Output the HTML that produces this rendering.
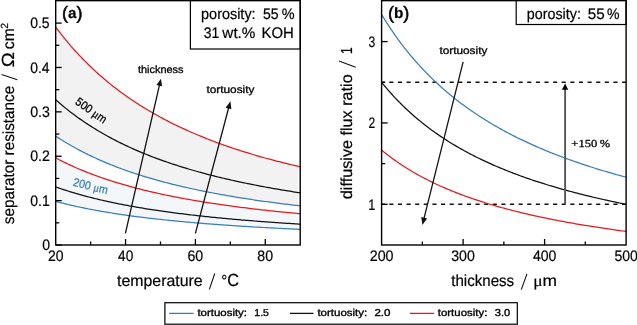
<!DOCTYPE html>
<html><head><meta charset="utf-8"><style>
html,body{margin:0;padding:0;background:#fff;}
body{width:637px;height:325px;overflow:hidden;}
svg{display:block;will-change:transform;text-rendering:geometricPrecision;}
</style></head><body>
<svg width="637" height="325" viewBox="0 0 637 325">
<rect x="0" y="0" width="637" height="325" fill="#fff"/>
<defs><clipPath id="fc"><rect x="57.9" y="0" width="240.0" height="245"/></clipPath></defs>
<path d="M55.70,27.14 L57.45,29.46 L59.19,31.73 L60.94,33.97 L62.69,36.16 L64.43,38.32 L66.18,40.44 L67.92,42.53 L69.67,44.58 L71.42,46.59 L73.16,48.58 L74.91,50.53 L76.66,52.44 L78.40,54.33 L80.15,56.19 L81.90,58.01 L83.64,59.81 L85.39,61.57 L87.14,63.31 L88.88,65.02 L90.63,66.71 L92.38,68.37 L94.12,70.00 L95.87,71.61 L97.61,73.19 L99.36,74.75 L101.11,76.28 L102.85,77.79 L104.60,79.28 L106.35,80.75 L108.09,82.19 L109.84,83.62 L111.59,85.02 L113.33,86.40 L115.08,87.76 L116.83,89.10 L118.57,90.43 L120.32,91.73 L122.06,93.01 L123.81,94.28 L125.56,95.53 L127.30,96.76 L129.05,97.98 L130.80,99.17 L132.54,100.35 L134.29,101.52 L136.04,102.67 L137.78,103.80 L139.53,104.92 L141.28,106.02 L143.02,107.11 L144.77,108.18 L146.51,109.24 L148.26,110.28 L150.01,111.32 L151.75,112.33 L153.50,113.34 L155.25,114.33 L156.99,115.31 L158.74,116.27 L160.49,117.23 L162.23,118.17 L163.98,119.10 L165.73,120.02 L167.47,120.92 L169.22,121.82 L170.96,122.70 L172.71,123.58 L174.46,124.44 L176.20,125.29 L177.95,126.13 L179.70,126.96 L181.44,127.79 L183.19,128.60 L184.94,129.40 L186.68,130.19 L188.43,130.97 L190.18,131.75 L191.92,132.51 L193.67,133.27 L195.41,134.01 L197.16,134.75 L198.91,135.48 L200.65,136.20 L202.40,136.91 L204.15,137.62 L205.89,138.32 L207.64,139.00 L209.39,139.69 L211.13,140.36 L212.88,141.02 L214.62,141.68 L216.37,142.33 L218.12,142.98 L219.86,143.61 L221.61,144.24 L223.36,144.87 L225.10,145.48 L226.85,146.09 L228.60,146.70 L230.34,147.29 L232.09,147.88 L233.84,148.47 L235.58,149.05 L237.33,149.62 L239.07,150.18 L240.82,150.74 L242.57,151.30 L244.31,151.84 L246.06,152.39 L247.81,152.92 L249.55,153.46 L251.30,153.98 L253.05,154.50 L254.79,155.02 L256.54,155.53 L258.29,156.03 L260.03,156.53 L261.78,157.03 L263.52,157.52 L265.27,158.00 L267.02,158.48 L268.76,158.96 L270.51,159.43 L272.26,159.90 L274.00,160.36 L275.75,160.82 L277.50,161.27 L279.24,161.72 L280.99,162.16 L282.74,162.60 L284.48,163.04 L286.23,163.47 L287.98,163.90 L289.72,164.32 L291.47,164.74 L293.21,165.16 L294.96,165.57 L296.71,165.98 L298.45,166.38 L300.20,166.78 L300.20,205.89 L298.45,205.69 L296.71,205.49 L294.96,205.28 L293.21,205.08 L291.47,204.87 L289.72,204.66 L287.98,204.45 L286.23,204.24 L284.48,204.02 L282.74,203.80 L280.99,203.58 L279.24,203.36 L277.50,203.13 L275.75,202.91 L274.00,202.68 L272.26,202.45 L270.51,202.22 L268.76,201.98 L267.02,201.74 L265.27,201.50 L263.52,201.26 L261.78,201.01 L260.03,200.77 L258.29,200.52 L256.54,200.26 L254.79,200.01 L253.05,199.75 L251.30,199.49 L249.55,199.23 L247.81,198.96 L246.06,198.69 L244.31,198.42 L242.57,198.15 L240.82,197.87 L239.07,197.59 L237.33,197.31 L235.58,197.02 L233.84,196.73 L232.09,196.44 L230.34,196.15 L228.60,195.85 L226.85,195.55 L225.10,195.24 L223.36,194.93 L221.61,194.62 L219.86,194.31 L218.12,193.99 L216.37,193.67 L214.62,193.34 L212.88,193.01 L211.13,192.68 L209.39,192.34 L207.64,192.00 L205.89,191.66 L204.15,191.31 L202.40,190.96 L200.65,190.60 L198.91,190.24 L197.16,189.88 L195.41,189.51 L193.67,189.13 L191.92,188.76 L190.18,188.37 L188.43,187.99 L186.68,187.60 L184.94,187.20 L183.19,186.80 L181.44,186.39 L179.70,185.98 L177.95,185.57 L176.20,185.15 L174.46,184.72 L172.71,184.29 L170.96,183.85 L169.22,183.41 L167.47,182.96 L165.73,182.51 L163.98,182.05 L162.23,181.59 L160.49,181.11 L158.74,180.64 L156.99,180.15 L155.25,179.66 L153.50,179.17 L151.75,178.67 L150.01,178.16 L148.26,177.64 L146.51,177.12 L144.77,176.59 L143.02,176.05 L141.28,175.51 L139.53,174.96 L137.78,174.40 L136.04,173.83 L134.29,173.26 L132.54,172.68 L130.80,172.09 L129.05,171.49 L127.30,170.88 L125.56,170.27 L123.81,169.64 L122.06,169.01 L120.32,168.36 L118.57,167.71 L116.83,167.05 L115.08,166.38 L113.33,165.70 L111.59,165.01 L109.84,164.31 L108.09,163.60 L106.35,162.87 L104.60,162.14 L102.85,161.40 L101.11,160.64 L99.36,159.87 L97.61,159.09 L95.87,158.30 L94.12,157.50 L92.38,156.68 L90.63,155.85 L88.88,155.01 L87.14,154.16 L85.39,153.29 L83.64,152.40 L81.90,151.51 L80.15,150.59 L78.40,149.67 L76.66,148.72 L74.91,147.76 L73.16,146.79 L71.42,145.80 L69.67,144.79 L67.92,143.76 L66.18,142.72 L64.43,141.66 L62.69,140.58 L60.94,139.48 L59.19,138.37 L57.45,137.23 L55.70,136.07 Z" fill="#f2f2f2" stroke="none" clip-path="url(#fc)"/>
<path d="M55.70,157.86 L57.45,158.78 L59.19,159.69 L60.94,160.59 L62.69,161.47 L64.43,162.33 L66.18,163.18 L67.92,164.01 L69.67,164.83 L71.42,165.64 L73.16,166.43 L74.91,167.21 L76.66,167.98 L78.40,168.73 L80.15,169.47 L81.90,170.20 L83.64,170.92 L85.39,171.63 L87.14,172.33 L88.88,173.01 L90.63,173.68 L92.38,174.35 L94.12,175.00 L95.87,175.64 L97.61,176.28 L99.36,176.90 L101.11,177.51 L102.85,178.12 L104.60,178.71 L106.35,179.30 L108.09,179.88 L109.84,180.45 L111.59,181.01 L113.33,181.56 L115.08,182.10 L116.83,182.64 L118.57,183.17 L120.32,183.69 L122.06,184.21 L123.81,184.71 L125.56,185.21 L127.30,185.70 L129.05,186.19 L130.80,186.67 L132.54,187.14 L134.29,187.61 L136.04,188.07 L137.78,188.52 L139.53,188.97 L141.28,189.41 L143.02,189.84 L144.77,190.27 L146.51,190.70 L148.26,191.11 L150.01,191.53 L151.75,191.93 L153.50,192.34 L155.25,192.73 L156.99,193.12 L158.74,193.51 L160.49,193.89 L162.23,194.27 L163.98,194.64 L165.73,195.01 L167.47,195.37 L169.22,195.73 L170.96,196.08 L172.71,196.43 L174.46,196.78 L176.20,197.12 L177.95,197.45 L179.70,197.79 L181.44,198.11 L183.19,198.44 L184.94,198.76 L186.68,199.08 L188.43,199.39 L190.18,199.70 L191.92,200.00 L193.67,200.31 L195.41,200.61 L197.16,200.90 L198.91,201.19 L200.65,201.48 L202.40,201.77 L204.15,202.05 L205.89,202.33 L207.64,202.60 L209.39,202.87 L211.13,203.14 L212.88,203.41 L214.62,203.67 L216.37,203.93 L218.12,204.19 L219.86,204.45 L221.61,204.70 L223.36,204.95 L225.10,205.19 L226.85,205.44 L228.60,205.68 L230.34,205.92 L232.09,206.15 L233.84,206.39 L235.58,206.62 L237.33,206.85 L239.07,207.07 L240.82,207.30 L242.57,207.52 L244.31,207.74 L246.06,207.95 L247.81,208.17 L249.55,208.38 L251.30,208.59 L253.05,208.80 L254.79,209.01 L256.54,209.21 L258.29,209.41 L260.03,209.61 L261.78,209.81 L263.52,210.01 L265.27,210.20 L267.02,210.39 L268.76,210.58 L270.51,210.77 L272.26,210.96 L274.00,211.14 L275.75,211.33 L277.50,211.51 L279.24,211.69 L280.99,211.87 L282.74,212.04 L284.48,212.22 L286.23,212.39 L287.98,212.56 L289.72,212.73 L291.47,212.90 L293.21,213.06 L294.96,213.23 L296.71,213.39 L298.45,213.55 L300.20,213.71 L300.20,229.36 L298.45,229.28 L296.71,229.20 L294.96,229.11 L293.21,229.03 L291.47,228.95 L289.72,228.86 L287.98,228.78 L286.23,228.69 L284.48,228.61 L282.74,228.52 L280.99,228.43 L279.24,228.34 L277.50,228.25 L275.75,228.16 L274.00,228.07 L272.26,227.98 L270.51,227.89 L268.76,227.79 L267.02,227.70 L265.27,227.60 L263.52,227.50 L261.78,227.41 L260.03,227.31 L258.29,227.21 L256.54,227.11 L254.79,227.00 L253.05,226.90 L251.30,226.80 L249.55,226.69 L247.81,226.58 L246.06,226.48 L244.31,226.37 L242.57,226.26 L240.82,226.15 L239.07,226.04 L237.33,225.92 L235.58,225.81 L233.84,225.69 L232.09,225.58 L230.34,225.46 L228.60,225.34 L226.85,225.22 L225.10,225.10 L223.36,224.97 L221.61,224.85 L219.86,224.72 L218.12,224.60 L216.37,224.47 L214.62,224.34 L212.88,224.20 L211.13,224.07 L209.39,223.94 L207.64,223.80 L205.89,223.66 L204.15,223.52 L202.40,223.38 L200.65,223.24 L198.91,223.10 L197.16,222.95 L195.41,222.80 L193.67,222.65 L191.92,222.50 L190.18,222.35 L188.43,222.19 L186.68,222.04 L184.94,221.88 L183.19,221.72 L181.44,221.56 L179.70,221.39 L177.95,221.23 L176.20,221.06 L174.46,220.89 L172.71,220.72 L170.96,220.54 L169.22,220.36 L167.47,220.18 L165.73,220.00 L163.98,219.82 L162.23,219.63 L160.49,219.45 L158.74,219.25 L156.99,219.06 L155.25,218.87 L153.50,218.67 L151.75,218.47 L150.01,218.26 L148.26,218.06 L146.51,217.85 L144.77,217.64 L143.02,217.42 L141.28,217.20 L139.53,216.98 L137.78,216.76 L136.04,216.53 L134.29,216.30 L132.54,216.07 L130.80,215.83 L129.05,215.60 L127.30,215.35 L125.56,215.11 L123.81,214.86 L122.06,214.60 L120.32,214.35 L118.57,214.09 L116.83,213.82 L115.08,213.55 L113.33,213.28 L111.59,213.00 L109.84,212.72 L108.09,212.44 L106.35,212.15 L104.60,211.86 L102.85,211.56 L101.11,211.26 L99.36,210.95 L97.61,210.64 L95.87,210.32 L94.12,210.00 L92.38,209.67 L90.63,209.34 L88.88,209.00 L87.14,208.66 L85.39,208.31 L83.64,207.96 L81.90,207.60 L80.15,207.24 L78.40,206.87 L76.66,206.49 L74.91,206.11 L73.16,205.72 L71.42,205.32 L69.67,204.92 L67.92,204.51 L66.18,204.09 L64.43,203.66 L62.69,203.23 L60.94,202.79 L59.19,202.35 L57.45,201.89 L55.70,201.43 Z" fill="#f3f7fa" stroke="none" clip-path="url(#fc)"/>
<path d="M55.70,136.07 L57.45,137.23 L59.19,138.37 L60.94,139.48 L62.69,140.58 L64.43,141.66 L66.18,142.72 L67.92,143.76 L69.67,144.79 L71.42,145.80 L73.16,146.79 L74.91,147.76 L76.66,148.72 L78.40,149.67 L80.15,150.59 L81.90,151.51 L83.64,152.40 L85.39,153.29 L87.14,154.16 L88.88,155.01 L90.63,155.85 L92.38,156.68 L94.12,157.50 L95.87,158.30 L97.61,159.09 L99.36,159.87 L101.11,160.64 L102.85,161.40 L104.60,162.14 L106.35,162.87 L108.09,163.60 L109.84,164.31 L111.59,165.01 L113.33,165.70 L115.08,166.38 L116.83,167.05 L118.57,167.71 L120.32,168.36 L122.06,169.01 L123.81,169.64 L125.56,170.27 L127.30,170.88 L129.05,171.49 L130.80,172.09 L132.54,172.68 L134.29,173.26 L136.04,173.83 L137.78,174.40 L139.53,174.96 L141.28,175.51 L143.02,176.05 L144.77,176.59 L146.51,177.12 L148.26,177.64 L150.01,178.16 L151.75,178.67 L153.50,179.17 L155.25,179.66 L156.99,180.15 L158.74,180.64 L160.49,181.11 L162.23,181.59 L163.98,182.05 L165.73,182.51 L167.47,182.96 L169.22,183.41 L170.96,183.85 L172.71,184.29 L174.46,184.72 L176.20,185.15 L177.95,185.57 L179.70,185.98 L181.44,186.39 L183.19,186.80 L184.94,187.20 L186.68,187.60 L188.43,187.99 L190.18,188.37 L191.92,188.76 L193.67,189.13 L195.41,189.51 L197.16,189.88 L198.91,190.24 L200.65,190.60 L202.40,190.96 L204.15,191.31 L205.89,191.66 L207.64,192.00 L209.39,192.34 L211.13,192.68 L212.88,193.01 L214.62,193.34 L216.37,193.67 L218.12,193.99 L219.86,194.31 L221.61,194.62 L223.36,194.93 L225.10,195.24 L226.85,195.55 L228.60,195.85 L230.34,196.15 L232.09,196.44 L233.84,196.73 L235.58,197.02 L237.33,197.31 L239.07,197.59 L240.82,197.87 L242.57,198.15 L244.31,198.42 L246.06,198.69 L247.81,198.96 L249.55,199.23 L251.30,199.49 L253.05,199.75 L254.79,200.01 L256.54,200.26 L258.29,200.52 L260.03,200.77 L261.78,201.01 L263.52,201.26 L265.27,201.50 L267.02,201.74 L268.76,201.98 L270.51,202.22 L272.26,202.45 L274.00,202.68 L275.75,202.91 L277.50,203.13 L279.24,203.36 L280.99,203.58 L282.74,203.80 L284.48,204.02 L286.23,204.24 L287.98,204.45 L289.72,204.66 L291.47,204.87 L293.21,205.08 L294.96,205.28 L296.71,205.49 L298.45,205.69 L300.20,205.89" fill="none" stroke="#377eb8" stroke-width="1.25"/>
<path d="M55.70,99.76 L57.45,101.31 L59.19,102.82 L60.94,104.31 L62.69,105.78 L64.43,107.21 L66.18,108.63 L67.92,110.02 L69.67,111.39 L71.42,112.73 L73.16,114.05 L74.91,115.35 L76.66,116.63 L78.40,117.89 L80.15,119.12 L81.90,120.34 L83.64,121.54 L85.39,122.72 L87.14,123.88 L88.88,125.02 L90.63,126.14 L92.38,127.24 L94.12,128.33 L95.87,129.40 L97.61,130.46 L99.36,131.50 L101.11,132.52 L102.85,133.53 L104.60,134.52 L106.35,135.50 L108.09,136.46 L109.84,137.41 L111.59,138.35 L113.33,139.27 L115.08,140.17 L116.83,141.07 L118.57,141.95 L120.32,142.82 L122.06,143.68 L123.81,144.52 L125.56,145.35 L127.30,146.17 L129.05,146.98 L130.80,147.78 L132.54,148.57 L134.29,149.35 L136.04,150.11 L137.78,150.87 L139.53,151.61 L141.28,152.35 L143.02,153.07 L144.77,153.79 L146.51,154.49 L148.26,155.19 L150.01,155.88 L151.75,156.56 L153.50,157.23 L155.25,157.89 L156.99,158.54 L158.74,159.18 L160.49,159.82 L162.23,160.45 L163.98,161.07 L165.73,161.68 L167.47,162.28 L169.22,162.88 L170.96,163.47 L172.71,164.05 L174.46,164.63 L176.20,165.19 L177.95,165.76 L179.70,166.31 L181.44,166.86 L183.19,167.40 L184.94,167.93 L186.68,168.46 L188.43,168.98 L190.18,169.50 L191.92,170.01 L193.67,170.51 L195.41,171.01 L197.16,171.50 L198.91,171.99 L200.65,172.47 L202.40,172.94 L204.15,173.41 L205.89,173.88 L207.64,174.34 L209.39,174.79 L211.13,175.24 L212.88,175.68 L214.62,176.12 L216.37,176.56 L218.12,176.99 L219.86,177.41 L221.61,177.83 L223.36,178.24 L225.10,178.66 L226.85,179.06 L228.60,179.46 L230.34,179.86 L232.09,180.26 L233.84,180.64 L235.58,181.03 L237.33,181.41 L239.07,181.79 L240.82,182.16 L242.57,182.53 L244.31,182.90 L246.06,183.26 L247.81,183.62 L249.55,183.97 L251.30,184.32 L253.05,184.67 L254.79,185.01 L256.54,185.35 L258.29,185.69 L260.03,186.02 L261.78,186.35 L263.52,186.68 L265.27,187.00 L267.02,187.32 L268.76,187.64 L270.51,187.95 L272.26,188.26 L274.00,188.57 L275.75,188.88 L277.50,189.18 L279.24,189.48 L280.99,189.78 L282.74,190.07 L284.48,190.36 L286.23,190.65 L287.98,190.93 L289.72,191.21 L291.47,191.49 L293.21,191.77 L294.96,192.05 L296.71,192.32 L298.45,192.59 L300.20,192.86" fill="none" stroke="#111111" stroke-width="1.25"/>
<path d="M55.70,27.14 L57.45,29.46 L59.19,31.73 L60.94,33.97 L62.69,36.16 L64.43,38.32 L66.18,40.44 L67.92,42.53 L69.67,44.58 L71.42,46.59 L73.16,48.58 L74.91,50.53 L76.66,52.44 L78.40,54.33 L80.15,56.19 L81.90,58.01 L83.64,59.81 L85.39,61.57 L87.14,63.31 L88.88,65.02 L90.63,66.71 L92.38,68.37 L94.12,70.00 L95.87,71.61 L97.61,73.19 L99.36,74.75 L101.11,76.28 L102.85,77.79 L104.60,79.28 L106.35,80.75 L108.09,82.19 L109.84,83.62 L111.59,85.02 L113.33,86.40 L115.08,87.76 L116.83,89.10 L118.57,90.43 L120.32,91.73 L122.06,93.01 L123.81,94.28 L125.56,95.53 L127.30,96.76 L129.05,97.98 L130.80,99.17 L132.54,100.35 L134.29,101.52 L136.04,102.67 L137.78,103.80 L139.53,104.92 L141.28,106.02 L143.02,107.11 L144.77,108.18 L146.51,109.24 L148.26,110.28 L150.01,111.32 L151.75,112.33 L153.50,113.34 L155.25,114.33 L156.99,115.31 L158.74,116.27 L160.49,117.23 L162.23,118.17 L163.98,119.10 L165.73,120.02 L167.47,120.92 L169.22,121.82 L170.96,122.70 L172.71,123.58 L174.46,124.44 L176.20,125.29 L177.95,126.13 L179.70,126.96 L181.44,127.79 L183.19,128.60 L184.94,129.40 L186.68,130.19 L188.43,130.97 L190.18,131.75 L191.92,132.51 L193.67,133.27 L195.41,134.01 L197.16,134.75 L198.91,135.48 L200.65,136.20 L202.40,136.91 L204.15,137.62 L205.89,138.32 L207.64,139.00 L209.39,139.69 L211.13,140.36 L212.88,141.02 L214.62,141.68 L216.37,142.33 L218.12,142.98 L219.86,143.61 L221.61,144.24 L223.36,144.87 L225.10,145.48 L226.85,146.09 L228.60,146.70 L230.34,147.29 L232.09,147.88 L233.84,148.47 L235.58,149.05 L237.33,149.62 L239.07,150.18 L240.82,150.74 L242.57,151.30 L244.31,151.84 L246.06,152.39 L247.81,152.92 L249.55,153.46 L251.30,153.98 L253.05,154.50 L254.79,155.02 L256.54,155.53 L258.29,156.03 L260.03,156.53 L261.78,157.03 L263.52,157.52 L265.27,158.00 L267.02,158.48 L268.76,158.96 L270.51,159.43 L272.26,159.90 L274.00,160.36 L275.75,160.82 L277.50,161.27 L279.24,161.72 L280.99,162.16 L282.74,162.60 L284.48,163.04 L286.23,163.47 L287.98,163.90 L289.72,164.32 L291.47,164.74 L293.21,165.16 L294.96,165.57 L296.71,165.98 L298.45,166.38 L300.20,166.78" fill="none" stroke="#e41a1c" stroke-width="1.25"/>
<path d="M55.70,201.43 L57.45,201.89 L59.19,202.35 L60.94,202.79 L62.69,203.23 L64.43,203.66 L66.18,204.09 L67.92,204.51 L69.67,204.92 L71.42,205.32 L73.16,205.72 L74.91,206.11 L76.66,206.49 L78.40,206.87 L80.15,207.24 L81.90,207.60 L83.64,207.96 L85.39,208.31 L87.14,208.66 L88.88,209.00 L90.63,209.34 L92.38,209.67 L94.12,210.00 L95.87,210.32 L97.61,210.64 L99.36,210.95 L101.11,211.26 L102.85,211.56 L104.60,211.86 L106.35,212.15 L108.09,212.44 L109.84,212.72 L111.59,213.00 L113.33,213.28 L115.08,213.55 L116.83,213.82 L118.57,214.09 L120.32,214.35 L122.06,214.60 L123.81,214.86 L125.56,215.11 L127.30,215.35 L129.05,215.60 L130.80,215.83 L132.54,216.07 L134.29,216.30 L136.04,216.53 L137.78,216.76 L139.53,216.98 L141.28,217.20 L143.02,217.42 L144.77,217.64 L146.51,217.85 L148.26,218.06 L150.01,218.26 L151.75,218.47 L153.50,218.67 L155.25,218.87 L156.99,219.06 L158.74,219.25 L160.49,219.45 L162.23,219.63 L163.98,219.82 L165.73,220.00 L167.47,220.18 L169.22,220.36 L170.96,220.54 L172.71,220.72 L174.46,220.89 L176.20,221.06 L177.95,221.23 L179.70,221.39 L181.44,221.56 L183.19,221.72 L184.94,221.88 L186.68,222.04 L188.43,222.19 L190.18,222.35 L191.92,222.50 L193.67,222.65 L195.41,222.80 L197.16,222.95 L198.91,223.10 L200.65,223.24 L202.40,223.38 L204.15,223.52 L205.89,223.66 L207.64,223.80 L209.39,223.94 L211.13,224.07 L212.88,224.20 L214.62,224.34 L216.37,224.47 L218.12,224.60 L219.86,224.72 L221.61,224.85 L223.36,224.97 L225.10,225.10 L226.85,225.22 L228.60,225.34 L230.34,225.46 L232.09,225.58 L233.84,225.69 L235.58,225.81 L237.33,225.92 L239.07,226.04 L240.82,226.15 L242.57,226.26 L244.31,226.37 L246.06,226.48 L247.81,226.58 L249.55,226.69 L251.30,226.80 L253.05,226.90 L254.79,227.00 L256.54,227.11 L258.29,227.21 L260.03,227.31 L261.78,227.41 L263.52,227.50 L265.27,227.60 L267.02,227.70 L268.76,227.79 L270.51,227.89 L272.26,227.98 L274.00,228.07 L275.75,228.16 L277.50,228.25 L279.24,228.34 L280.99,228.43 L282.74,228.52 L284.48,228.61 L286.23,228.69 L287.98,228.78 L289.72,228.86 L291.47,228.95 L293.21,229.03 L294.96,229.11 L296.71,229.20 L298.45,229.28 L300.20,229.36" fill="none" stroke="#377eb8" stroke-width="1.25"/>
<path d="M55.70,186.90 L57.45,187.52 L59.19,188.13 L60.94,188.72 L62.69,189.31 L64.43,189.89 L66.18,190.45 L67.92,191.01 L69.67,191.55 L71.42,192.09 L73.16,192.62 L74.91,193.14 L76.66,193.65 L78.40,194.15 L80.15,194.65 L81.90,195.14 L83.64,195.62 L85.39,196.09 L87.14,196.55 L88.88,197.01 L90.63,197.46 L92.38,197.90 L94.12,198.33 L95.87,198.76 L97.61,199.18 L99.36,199.60 L101.11,200.01 L102.85,200.41 L104.60,200.81 L106.35,201.20 L108.09,201.58 L109.84,201.96 L111.59,202.34 L113.33,202.71 L115.08,203.07 L116.83,203.43 L118.57,203.78 L120.32,204.13 L122.06,204.47 L123.81,204.81 L125.56,205.14 L127.30,205.47 L129.05,205.79 L130.80,206.11 L132.54,206.43 L134.29,206.74 L136.04,207.04 L137.78,207.35 L139.53,207.64 L141.28,207.94 L143.02,208.23 L144.77,208.51 L146.51,208.80 L148.26,209.08 L150.01,209.35 L151.75,209.62 L153.50,209.89 L155.25,210.15 L156.99,210.42 L158.74,210.67 L160.49,210.93 L162.23,211.18 L163.98,211.43 L165.73,211.67 L167.47,211.91 L169.22,212.15 L170.96,212.39 L172.71,212.62 L174.46,212.85 L176.20,213.08 L177.95,213.30 L179.70,213.52 L181.44,213.74 L183.19,213.96 L184.94,214.17 L186.68,214.38 L188.43,214.59 L190.18,214.80 L191.92,215.00 L193.67,215.20 L195.41,215.40 L197.16,215.60 L198.91,215.79 L200.65,215.99 L202.40,216.18 L204.15,216.36 L205.89,216.55 L207.64,216.73 L209.39,216.92 L211.13,217.10 L212.88,217.27 L214.62,217.45 L216.37,217.62 L218.12,217.79 L219.86,217.96 L221.61,218.13 L223.36,218.30 L225.10,218.46 L226.85,218.62 L228.60,218.79 L230.34,218.94 L232.09,219.10 L233.84,219.26 L235.58,219.41 L237.33,219.56 L239.07,219.72 L240.82,219.86 L242.57,220.01 L244.31,220.16 L246.06,220.30 L247.81,220.45 L249.55,220.59 L251.30,220.73 L253.05,220.87 L254.79,221.00 L256.54,221.14 L258.29,221.28 L260.03,221.41 L261.78,221.54 L263.52,221.67 L265.27,221.80 L267.02,221.93 L268.76,222.06 L270.51,222.18 L272.26,222.31 L274.00,222.43 L275.75,222.55 L277.50,222.67 L279.24,222.79 L280.99,222.91 L282.74,223.03 L284.48,223.14 L286.23,223.26 L287.98,223.37 L289.72,223.49 L291.47,223.60 L293.21,223.71 L294.96,223.82 L296.71,223.93 L298.45,224.04 L300.20,224.14" fill="none" stroke="#111111" stroke-width="1.25"/>
<path d="M55.70,157.86 L57.45,158.78 L59.19,159.69 L60.94,160.59 L62.69,161.47 L64.43,162.33 L66.18,163.18 L67.92,164.01 L69.67,164.83 L71.42,165.64 L73.16,166.43 L74.91,167.21 L76.66,167.98 L78.40,168.73 L80.15,169.47 L81.90,170.20 L83.64,170.92 L85.39,171.63 L87.14,172.33 L88.88,173.01 L90.63,173.68 L92.38,174.35 L94.12,175.00 L95.87,175.64 L97.61,176.28 L99.36,176.90 L101.11,177.51 L102.85,178.12 L104.60,178.71 L106.35,179.30 L108.09,179.88 L109.84,180.45 L111.59,181.01 L113.33,181.56 L115.08,182.10 L116.83,182.64 L118.57,183.17 L120.32,183.69 L122.06,184.21 L123.81,184.71 L125.56,185.21 L127.30,185.70 L129.05,186.19 L130.80,186.67 L132.54,187.14 L134.29,187.61 L136.04,188.07 L137.78,188.52 L139.53,188.97 L141.28,189.41 L143.02,189.84 L144.77,190.27 L146.51,190.70 L148.26,191.11 L150.01,191.53 L151.75,191.93 L153.50,192.34 L155.25,192.73 L156.99,193.12 L158.74,193.51 L160.49,193.89 L162.23,194.27 L163.98,194.64 L165.73,195.01 L167.47,195.37 L169.22,195.73 L170.96,196.08 L172.71,196.43 L174.46,196.78 L176.20,197.12 L177.95,197.45 L179.70,197.79 L181.44,198.11 L183.19,198.44 L184.94,198.76 L186.68,199.08 L188.43,199.39 L190.18,199.70 L191.92,200.00 L193.67,200.31 L195.41,200.61 L197.16,200.90 L198.91,201.19 L200.65,201.48 L202.40,201.77 L204.15,202.05 L205.89,202.33 L207.64,202.60 L209.39,202.87 L211.13,203.14 L212.88,203.41 L214.62,203.67 L216.37,203.93 L218.12,204.19 L219.86,204.45 L221.61,204.70 L223.36,204.95 L225.10,205.19 L226.85,205.44 L228.60,205.68 L230.34,205.92 L232.09,206.15 L233.84,206.39 L235.58,206.62 L237.33,206.85 L239.07,207.07 L240.82,207.30 L242.57,207.52 L244.31,207.74 L246.06,207.95 L247.81,208.17 L249.55,208.38 L251.30,208.59 L253.05,208.80 L254.79,209.01 L256.54,209.21 L258.29,209.41 L260.03,209.61 L261.78,209.81 L263.52,210.01 L265.27,210.20 L267.02,210.39 L268.76,210.58 L270.51,210.77 L272.26,210.96 L274.00,211.14 L275.75,211.33 L277.50,211.51 L279.24,211.69 L280.99,211.87 L282.74,212.04 L284.48,212.22 L286.23,212.39 L287.98,212.56 L289.72,212.73 L291.47,212.90 L293.21,213.06 L294.96,213.23 L296.71,213.39 L298.45,213.55 L300.20,213.71" fill="none" stroke="#e41a1c" stroke-width="1.25"/>
<line x1="381.6" y1="82.27" x2="626.1" y2="82.27" stroke="#111" stroke-width="1.4" stroke-dasharray="4.1 4.52" stroke-dashoffset="0.92"/>
<line x1="381.6" y1="204.32" x2="626.1" y2="204.32" stroke="#111" stroke-width="1.4" stroke-dasharray="4.1 4.52" stroke-dashoffset="0.92"/>
<path d="M381.60,14.46 L383.23,17.15 L384.86,19.78 L386.49,22.36 L388.12,24.89 L389.75,27.38 L391.38,29.81 L393.01,32.20 L394.64,34.55 L396.27,36.86 L397.90,39.12 L399.53,41.34 L401.16,43.52 L402.79,45.66 L404.42,47.77 L406.05,49.84 L407.68,51.87 L409.31,53.87 L410.94,55.83 L412.57,57.77 L414.20,59.66 L415.83,61.53 L417.46,63.37 L419.09,65.18 L420.72,66.96 L422.35,68.71 L423.98,70.43 L425.61,72.12 L427.24,73.79 L428.87,75.43 L430.50,77.05 L432.13,78.64 L433.76,80.21 L435.39,81.76 L437.02,83.28 L438.65,84.78 L440.28,86.26 L441.91,87.71 L443.54,89.15 L445.17,90.56 L446.80,91.95 L448.43,93.33 L450.06,94.68 L451.69,96.02 L453.32,97.33 L454.95,98.63 L456.58,99.91 L458.21,101.18 L459.84,102.43 L461.47,103.65 L463.10,104.87 L464.73,106.07 L466.36,107.25 L467.99,108.41 L469.62,109.57 L471.25,110.70 L472.88,111.82 L474.51,112.93 L476.14,114.02 L477.77,115.10 L479.40,116.17 L481.03,117.22 L482.66,118.26 L484.29,119.29 L485.92,120.30 L487.55,121.31 L489.18,122.30 L490.81,123.27 L492.44,124.24 L494.07,125.20 L495.70,126.14 L497.33,127.07 L498.96,128.00 L500.59,128.91 L502.22,129.81 L503.85,130.70 L505.48,131.58 L507.11,132.45 L508.74,133.31 L510.37,134.16 L512.00,135.00 L513.63,135.84 L515.26,136.66 L516.89,137.47 L518.52,138.28 L520.15,139.08 L521.78,139.86 L523.41,140.64 L525.04,141.42 L526.67,142.18 L528.30,142.93 L529.93,143.68 L531.56,144.42 L533.19,145.15 L534.82,145.88 L536.45,146.60 L538.08,147.30 L539.71,148.01 L541.34,148.70 L542.97,149.39 L544.60,150.07 L546.23,150.75 L547.86,151.41 L549.49,152.08 L551.12,152.73 L552.75,153.38 L554.38,154.02 L556.01,154.66 L557.64,155.29 L559.27,155.91 L560.90,156.53 L562.53,157.14 L564.16,157.75 L565.79,158.35 L567.42,158.94 L569.05,159.53 L570.68,160.12 L572.31,160.70 L573.94,161.27 L575.57,161.84 L577.20,162.40 L578.83,162.96 L580.46,163.51 L582.09,164.06 L583.72,164.60 L585.35,165.14 L586.98,165.67 L588.61,166.20 L590.24,166.73 L591.87,167.25 L593.50,167.76 L595.13,168.27 L596.76,168.78 L598.39,169.28 L600.02,169.78 L601.65,170.27 L603.28,170.76 L604.91,171.24 L606.54,171.72 L608.17,172.20 L609.80,172.67 L611.43,173.14 L613.06,173.61 L614.69,174.07 L616.32,174.53 L617.95,174.98 L619.58,175.43 L621.21,175.88 L622.84,176.32 L624.47,176.76 L626.10,177.19" fill="none" stroke="#377eb8" stroke-width="1.25"/>
<path d="M381.60,82.27 L383.23,84.28 L384.86,86.26 L386.49,88.19 L388.12,90.09 L389.75,91.95 L391.38,93.78 L393.01,95.57 L394.64,97.33 L396.27,99.06 L397.90,100.76 L399.53,102.43 L401.16,104.06 L402.79,105.67 L404.42,107.25 L406.05,108.80 L407.68,110.32 L409.31,111.82 L410.94,113.30 L412.57,114.74 L414.20,116.17 L415.83,117.57 L417.46,118.95 L419.09,120.30 L420.72,121.64 L422.35,122.95 L423.98,124.24 L425.61,125.51 L427.24,126.76 L428.87,128.00 L430.50,129.21 L432.13,130.40 L433.76,131.58 L435.39,132.74 L437.02,133.88 L438.65,135.00 L440.28,136.11 L441.91,137.20 L443.54,138.28 L445.17,139.34 L446.80,140.39 L448.43,141.42 L450.06,142.43 L451.69,143.43 L453.32,144.42 L454.95,145.40 L456.58,146.36 L458.21,147.30 L459.84,148.24 L461.47,149.16 L463.10,150.07 L464.73,150.97 L466.36,151.86 L467.99,152.73 L469.62,153.59 L471.25,154.45 L472.88,155.29 L474.51,156.12 L476.14,156.94 L477.77,157.75 L479.40,158.55 L481.03,159.34 L482.66,160.12 L484.29,160.89 L485.92,161.65 L487.55,162.40 L489.18,163.14 L490.81,163.88 L492.44,164.60 L494.07,165.32 L495.70,166.03 L497.33,166.73 L498.96,167.42 L500.59,168.10 L502.22,168.78 L503.85,169.45 L505.48,170.11 L507.11,170.76 L508.74,171.40 L510.37,172.04 L512.00,172.67 L513.63,173.30 L515.26,173.92 L516.89,174.53 L518.52,175.13 L520.15,175.73 L521.78,176.32 L523.41,176.90 L525.04,177.48 L526.67,178.06 L528.30,178.62 L529.93,179.18 L531.56,179.74 L533.19,180.29 L534.82,180.83 L536.45,181.37 L538.08,181.90 L539.71,182.43 L541.34,182.95 L542.97,183.46 L544.60,183.97 L546.23,184.48 L547.86,184.98 L549.49,185.48 L551.12,185.97 L552.75,186.46 L554.38,186.94 L556.01,187.41 L557.64,187.89 L559.27,188.35 L560.90,188.82 L562.53,189.28 L564.16,189.73 L565.79,190.18 L567.42,190.63 L569.05,191.07 L570.68,191.51 L572.31,191.94 L573.94,192.37 L575.57,192.80 L577.20,193.22 L578.83,193.64 L580.46,194.05 L582.09,194.47 L583.72,194.87 L585.35,195.28 L586.98,195.68 L588.61,196.07 L590.24,196.47 L591.87,196.86 L593.50,197.24 L595.13,197.62 L596.76,198.00 L598.39,198.38 L600.02,198.75 L601.65,199.12 L603.28,199.49 L604.91,199.85 L606.54,200.21 L608.17,200.57 L609.80,200.93 L611.43,201.28 L613.06,201.63 L614.69,201.97 L616.32,202.32 L617.95,202.66 L619.58,202.99 L621.21,203.33 L622.84,203.66 L624.47,203.99 L626.10,204.32" fill="none" stroke="#111111" stroke-width="1.25"/>
<path d="M381.60,150.07 L383.23,151.41 L384.86,152.73 L386.49,154.02 L388.12,155.29 L389.75,156.53 L391.38,157.75 L393.01,158.94 L394.64,160.12 L396.27,161.27 L397.90,162.40 L399.53,163.51 L401.16,164.60 L402.79,165.67 L404.42,166.73 L406.05,167.76 L407.68,168.78 L409.31,169.78 L410.94,170.76 L412.57,171.72 L414.20,172.67 L415.83,173.61 L417.46,174.53 L419.09,175.43 L420.72,176.32 L422.35,177.19 L423.98,178.06 L425.61,178.90 L427.24,179.74 L428.87,180.56 L430.50,181.37 L432.13,182.16 L433.76,182.95 L435.39,183.72 L437.02,184.48 L438.65,185.23 L440.28,185.97 L441.91,186.70 L443.54,187.41 L445.17,188.12 L446.80,188.82 L448.43,189.51 L450.06,190.18 L451.69,190.85 L453.32,191.51 L454.95,192.16 L456.58,192.80 L458.21,193.43 L459.84,194.05 L461.47,194.67 L463.10,195.28 L464.73,195.87 L466.36,196.47 L467.99,197.05 L469.62,197.62 L471.25,198.19 L472.88,198.75 L474.51,199.31 L476.14,199.85 L477.77,200.39 L479.40,200.93 L481.03,201.45 L482.66,201.97 L484.29,202.49 L485.92,202.99 L487.55,203.49 L489.18,203.99 L490.81,204.48 L492.44,204.96 L494.07,205.44 L495.70,205.91 L497.33,206.38 L498.96,206.84 L500.59,207.30 L502.22,207.75 L503.85,208.19 L505.48,208.63 L507.11,209.07 L508.74,209.50 L510.37,209.92 L512.00,210.34 L513.63,210.76 L515.26,211.17 L516.89,211.58 L518.52,211.98 L520.15,212.38 L521.78,212.77 L523.41,213.16 L525.04,213.55 L526.67,213.93 L528.30,214.31 L529.93,214.68 L531.56,215.05 L533.19,215.42 L534.82,215.78 L536.45,216.14 L538.08,216.49 L539.71,216.85 L541.34,217.19 L542.97,217.54 L544.60,217.88 L546.23,218.22 L547.86,218.55 L549.49,218.88 L551.12,219.21 L552.75,219.53 L554.38,219.85 L556.01,220.17 L557.64,220.49 L559.27,220.80 L560.90,221.11 L562.53,221.41 L564.16,221.72 L565.79,222.02 L567.42,222.31 L569.05,222.61 L570.68,222.90 L572.31,223.19 L573.94,223.48 L575.57,223.76 L577.20,224.04 L578.83,224.32 L580.46,224.60 L582.09,224.87 L583.72,225.14 L585.35,225.41 L586.98,225.68 L588.61,225.94 L590.24,226.20 L591.87,226.46 L593.50,226.72 L595.13,226.98 L596.76,227.23 L598.39,227.48 L600.02,227.73 L601.65,227.98 L603.28,228.22 L604.91,228.46 L606.54,228.70 L608.17,228.94 L609.80,229.18 L611.43,229.41 L613.06,229.65 L614.69,229.88 L616.32,230.11 L617.95,230.33 L619.58,230.56 L621.21,230.78 L622.84,231.00 L624.47,231.22 L626.10,231.44" fill="none" stroke="#e41a1c" stroke-width="1.25"/>
<line x1="125.40" y1="233.30" x2="159.56" y2="84.65" stroke="#111" stroke-width="1.30"/><path d="M160.90,78.80 L162.16,86.27 L156.51,84.97 Z" fill="#111"/>
<line x1="195.40" y1="233.30" x2="228.74" y2="107.48" stroke="#111" stroke-width="1.30"/><path d="M230.40,101.20 L231.38,109.22 L225.58,107.68 Z" fill="#111"/>
<line x1="463.10" y1="61.80" x2="423.97" y2="218.69" stroke="#111" stroke-width="1.30"/><path d="M422.40,225.00 L421.30,217.00 L427.13,218.45 Z" fill="#111"/>
<line x1="565.10" y1="204.32" x2="565.10" y2="88.80" stroke="#555" stroke-width="1.90"/><path d="M565.10,83.50 L568.30,89.80 L561.90,89.80 Z" fill="#000"/>
<rect x="190.4" y="-2" width="109.8" height="51" fill="#fff" stroke="#000" stroke-width="1.2"/>
<rect x="516.2" y="-2" width="109.9" height="26.5" fill="#fff" stroke="#000" stroke-width="1.2"/>
<rect x="55.70" y="0.65" width="244.50" height="244.35" fill="none" stroke="#000" stroke-width="1.4"/>
<rect x="381.60" y="0.65" width="244.50" height="244.35" fill="none" stroke="#000" stroke-width="1.4"/>
<line x1="55.70" y1="245.00" x2="61.70" y2="245.00" stroke="#000" stroke-width="1.3"/>
<line x1="55.70" y1="200.62" x2="61.70" y2="200.62" stroke="#000" stroke-width="1.3"/>
<line x1="55.70" y1="156.24" x2="61.70" y2="156.24" stroke="#000" stroke-width="1.3"/>
<line x1="55.70" y1="111.85" x2="61.70" y2="111.85" stroke="#000" stroke-width="1.3"/>
<line x1="55.70" y1="67.47" x2="61.70" y2="67.47" stroke="#000" stroke-width="1.3"/>
<line x1="55.70" y1="23.09" x2="61.70" y2="23.09" stroke="#000" stroke-width="1.3"/>
<line x1="55.70" y1="222.81" x2="59.30" y2="222.81" stroke="#000" stroke-width="1.3"/>
<line x1="55.70" y1="178.43" x2="59.30" y2="178.43" stroke="#000" stroke-width="1.3"/>
<line x1="55.70" y1="134.05" x2="59.30" y2="134.05" stroke="#000" stroke-width="1.3"/>
<line x1="55.70" y1="89.66" x2="59.30" y2="89.66" stroke="#000" stroke-width="1.3"/>
<line x1="55.70" y1="45.28" x2="59.30" y2="45.28" stroke="#000" stroke-width="1.3"/>
<line x1="125.56" y1="245.00" x2="125.56" y2="239.00" stroke="#000" stroke-width="1.3"/>
<line x1="195.41" y1="245.00" x2="195.41" y2="239.00" stroke="#000" stroke-width="1.3"/>
<line x1="265.27" y1="245.00" x2="265.27" y2="239.00" stroke="#000" stroke-width="1.3"/>
<line x1="90.63" y1="245.00" x2="90.63" y2="241.40" stroke="#000" stroke-width="1.3"/>
<line x1="160.49" y1="245.00" x2="160.49" y2="241.40" stroke="#000" stroke-width="1.3"/>
<line x1="230.34" y1="245.00" x2="230.34" y2="241.40" stroke="#000" stroke-width="1.3"/>
<line x1="381.60" y1="204.32" x2="387.60" y2="204.32" stroke="#000" stroke-width="1.3"/>
<line x1="381.60" y1="122.95" x2="387.60" y2="122.95" stroke="#000" stroke-width="1.3"/>
<line x1="381.60" y1="41.58" x2="387.60" y2="41.58" stroke="#000" stroke-width="1.3"/>
<line x1="381.60" y1="163.63" x2="385.20" y2="163.63" stroke="#000" stroke-width="1.3"/>
<line x1="381.60" y1="82.27" x2="385.20" y2="82.27" stroke="#000" stroke-width="1.3"/>
<line x1="463.10" y1="245.00" x2="463.10" y2="239.00" stroke="#000" stroke-width="1.3"/>
<line x1="544.60" y1="245.00" x2="544.60" y2="239.00" stroke="#000" stroke-width="1.3"/>
<line x1="422.35" y1="245.00" x2="422.35" y2="241.40" stroke="#000" stroke-width="1.3"/>
<line x1="503.85" y1="245.00" x2="503.85" y2="241.40" stroke="#000" stroke-width="1.3"/>
<line x1="585.35" y1="245.00" x2="585.35" y2="241.40" stroke="#000" stroke-width="1.3"/>
<g transform="translate(74.6,103.6) rotate(35)"><text x="0" y="0" font-size="11.8" font-family="Liberation Sans, sans-serif" textLength="35.2" lengthAdjust="spacingAndGlyphs" fill="#000" stroke="#000" stroke-width="0.3">500 <tspan font-family="Liberation Serif, serif">μ</tspan>m</text></g>
<g transform="translate(72.5,185.6) rotate(14)"><text x="0" y="0" font-size="11.6" font-family="Liberation Sans, sans-serif" textLength="35.5" lengthAdjust="spacingAndGlyphs" fill="#377eb8" stroke="#377eb8" stroke-width="0.25">200 <tspan font-family="Liberation Serif, serif">μ</tspan>m</text></g>
<rect x="164.9" y="302.7" width="352.4" height="21.5" fill="#fff" stroke="#000" stroke-width="1.2"/>
<line x1="169.2" y1="313.4" x2="193.6" y2="313.4" stroke="#377eb8" stroke-width="1.3"/>
<line x1="289.9" y1="313.4" x2="313.5" y2="313.4" stroke="#111111" stroke-width="1.3"/>
<line x1="409.9" y1="313.4" x2="434.1" y2="313.4" stroke="#e41a1c" stroke-width="1.3"/>
<line x1="209.30" y1="289.40" x2="214.80" y2="273.50" stroke="#111" stroke-width="1.1"/>
<line x1="521.30" y1="289.60" x2="527.00" y2="273.90" stroke="#111" stroke-width="1.1"/>
<line x1="17.30" y1="79.80" x2="1.60" y2="74.40" stroke="#111" stroke-width="1.1"/>
<line x1="355.70" y1="67.30" x2="339.00" y2="61.00" stroke="#111" stroke-width="1.1"/>
<text x="42.28" y="250.20" font-size="15.20" font-family="Liberation Sans, sans-serif" textLength="7.81" lengthAdjust="spacingAndGlyphs" stroke="#000" stroke-width="0.20" >0</text>
<text x="30.19" y="205.82" font-size="15.20" font-family="Liberation Sans, sans-serif" textLength="19.50" lengthAdjust="spacingAndGlyphs" stroke="#000" stroke-width="0.20" >0.1</text>
<text x="30.19" y="161.44" font-size="15.20" font-family="Liberation Sans, sans-serif" textLength="19.72" lengthAdjust="spacingAndGlyphs" stroke="#000" stroke-width="0.20" >0.2</text>
<text x="30.20" y="117.05" font-size="15.20" font-family="Liberation Sans, sans-serif" textLength="19.74" lengthAdjust="spacingAndGlyphs" stroke="#000" stroke-width="0.20" >0.3</text>
<text x="30.22" y="72.67" font-size="15.20" font-family="Liberation Sans, sans-serif" textLength="19.38" lengthAdjust="spacingAndGlyphs" stroke="#000" stroke-width="0.20" >0.4</text>
<text x="30.20" y="28.29" font-size="15.20" font-family="Liberation Sans, sans-serif" textLength="19.43" lengthAdjust="spacingAndGlyphs" stroke="#000" stroke-width="0.20" >0.5</text>
<text x="47.96" y="261.20" font-size="15.20" font-family="Liberation Sans, sans-serif" textLength="15.59" lengthAdjust="spacingAndGlyphs" stroke="#000" stroke-width="0.20" >20</text>
<text x="118.05" y="261.20" font-size="15.20" font-family="Liberation Sans, sans-serif" textLength="15.18" lengthAdjust="spacingAndGlyphs" stroke="#000" stroke-width="0.20" >40</text>
<text x="187.40" y="261.20" font-size="15.20" font-family="Liberation Sans, sans-serif" textLength="15.80" lengthAdjust="spacingAndGlyphs" stroke="#000" stroke-width="0.20" >60</text>
<text x="257.28" y="261.20" font-size="15.20" font-family="Liberation Sans, sans-serif" textLength="15.76" lengthAdjust="spacingAndGlyphs" stroke="#000" stroke-width="0.20" >80</text>
<text x="368.13" y="209.52" font-size="15.20" font-family="Liberation Sans, sans-serif" textLength="7.04" lengthAdjust="spacingAndGlyphs" stroke="#000" stroke-width="0.20" >1</text>
<text x="368.39" y="128.15" font-size="15.20" font-family="Liberation Sans, sans-serif" textLength="6.70" lengthAdjust="spacingAndGlyphs" stroke="#000" stroke-width="0.20" >2</text>
<text x="368.62" y="46.78" font-size="15.20" font-family="Liberation Sans, sans-serif" textLength="6.75" lengthAdjust="spacingAndGlyphs" stroke="#000" stroke-width="0.20" >3</text>
<text x="369.70" y="261.30" font-size="15.20" font-family="Liberation Sans, sans-serif" textLength="23.86" lengthAdjust="spacingAndGlyphs" stroke="#000" stroke-width="0.20" >200</text>
<text x="451.24" y="261.30" font-size="15.20" font-family="Liberation Sans, sans-serif" textLength="23.63" lengthAdjust="spacingAndGlyphs" stroke="#000" stroke-width="0.20" >300</text>
<text x="532.97" y="261.30" font-size="15.20" font-family="Liberation Sans, sans-serif" textLength="23.44" lengthAdjust="spacingAndGlyphs" stroke="#000" stroke-width="0.20" >400</text>
<text x="614.47" y="261.30" font-size="15.20" font-family="Liberation Sans, sans-serif" textLength="23.44" lengthAdjust="spacingAndGlyphs" stroke="#000" stroke-width="0.20" >500</text>
<text x="117.09" y="286.00" font-size="16.00" font-family="Liberation Sans, sans-serif" textLength="85.50" lengthAdjust="spacingAndGlyphs" stroke="#000" stroke-width="0.20" >temperature</text>
<text x="221.23" y="286.00" font-size="16.00" font-family="Liberation Sans, sans-serif" textLength="17.74" lengthAdjust="spacingAndGlyphs" stroke="#000" stroke-width="0.20" >°<tspan font-size="17.6">C</tspan></text>
<text x="451.29" y="286.00" font-size="16.00" font-family="Liberation Sans, sans-serif" textLength="62.86" lengthAdjust="spacingAndGlyphs" stroke="#000" stroke-width="0.20" >thickness</text>
<text x="533.32" y="286.00" font-size="16.00" font-family="Liberation Sans, sans-serif" textLength="23.79" lengthAdjust="spacingAndGlyphs" stroke="#000" stroke-width="0.20" ><tspan font-family="Liberation Serif, serif">μ</tspan>m</text>
<g transform="translate(14.00,230.00) rotate(-90)"><text x="5.87" y="0.00" font-size="16.00" font-family="Liberation Sans, sans-serif" textLength="138.29" lengthAdjust="spacingAndGlyphs" stroke="#000" stroke-width="0.20" >separator resistance</text></g>
<g transform="translate(14.00,230.00) rotate(-90)"><text x="162.83" y="0.00" font-size="17.60" font-family="Liberation Sans, sans-serif" textLength="15.16" lengthAdjust="spacingAndGlyphs" stroke="#000" stroke-width="0.20" >Ω</text></g>
<g transform="translate(14.00,230.00) rotate(-90)"><text x="180.86" y="0.00" font-size="16.00" font-family="Liberation Sans, sans-serif" textLength="20.84" lengthAdjust="spacingAndGlyphs" stroke="#000" stroke-width="0.20" >cm</text></g>
<g transform="translate(8.30,230.00) rotate(-90)"><text x="201.39" y="0.00" font-size="10.40" font-family="Liberation Sans, sans-serif" textLength="5.82" lengthAdjust="spacingAndGlyphs" stroke="#000" stroke-width="0.20" >2</text></g>
<g transform="translate(352.20,205.00) rotate(-90)"><text x="5.86" y="0.00" font-size="16.00" font-family="Liberation Sans, sans-serif" textLength="124.86" lengthAdjust="spacingAndGlyphs" stroke="#000" stroke-width="0.20" >diffusive flux ratio</text></g>
<g transform="translate(352.20,205.00) rotate(-90)"><text x="150.94" y="0.00" font-size="16.00" font-family="Liberation Sans, sans-serif" textLength="6.71" lengthAdjust="spacingAndGlyphs" stroke="#000" stroke-width="0.20" >1</text></g>
<text x="62.01" y="17.90" font-size="15.00" font-family="Liberation Sans, sans-serif" textLength="20.42" lengthAdjust="spacingAndGlyphs" stroke="#000" stroke-width="0.20" font-weight="bold"><tspan font-weight="normal" stroke="#000" stroke-width="0.5" font-size="17.8" dy="0.9">(</tspan><tspan dy="-0.9">a</tspan><tspan font-weight="normal" stroke="#000" stroke-width="0.5" font-size="17.8" dy="0.9">)</tspan></text>
<text x="387.91" y="17.90" font-size="15.00" font-family="Liberation Sans, sans-serif" textLength="21.50" lengthAdjust="spacingAndGlyphs" stroke="#000" stroke-width="0.20" font-weight="bold"><tspan font-weight="normal" stroke="#000" stroke-width="0.5" font-size="17.8" dy="0.9">(</tspan><tspan dy="-0.9">b</tspan><tspan font-weight="normal" stroke="#000" stroke-width="0.5" font-size="17.8" dy="0.9">)</tspan></text>
<text x="201.10" y="18.50" font-size="15.30" font-family="Liberation Sans, sans-serif" textLength="54.50" lengthAdjust="spacingAndGlyphs" stroke="#000" stroke-width="0.20" >porosity:</text>
<text x="263.03" y="18.50" font-size="15.30" font-family="Liberation Sans, sans-serif" textLength="15.62" lengthAdjust="spacingAndGlyphs" stroke="#000" stroke-width="0.20" >55</text>
<text x="281.87" y="18.50" font-size="15.30" font-family="Liberation Sans, sans-serif" textLength="12.81" lengthAdjust="spacingAndGlyphs" stroke="#000" stroke-width="0.20" >%</text>
<text x="203.73" y="37.60" font-size="15.30" font-family="Liberation Sans, sans-serif" textLength="15.52" lengthAdjust="spacingAndGlyphs" stroke="#000" stroke-width="0.20" >31</text>
<text x="222.36" y="37.60" font-size="15.30" font-family="Liberation Sans, sans-serif" textLength="33.07" lengthAdjust="spacingAndGlyphs" stroke="#000" stroke-width="0.20" >wt.%</text>
<text x="261.57" y="37.60" font-size="15.30" font-family="Liberation Sans, sans-serif" textLength="32.31" lengthAdjust="spacingAndGlyphs" stroke="#000" stroke-width="0.20" >KOH</text>
<text x="526.87" y="18.50" font-size="15.30" font-family="Liberation Sans, sans-serif" textLength="54.02" lengthAdjust="spacingAndGlyphs" stroke="#000" stroke-width="0.20" >porosity:</text>
<text x="587.84" y="18.50" font-size="15.30" font-family="Liberation Sans, sans-serif" textLength="16.95" lengthAdjust="spacingAndGlyphs" stroke="#000" stroke-width="0.20" >55</text>
<text x="606.92" y="18.50" font-size="15.30" font-family="Liberation Sans, sans-serif" textLength="12.52" lengthAdjust="spacingAndGlyphs" stroke="#000" stroke-width="0.20" >%</text>
<text x="137.91" y="72.60" font-size="10.60" font-family="Liberation Sans, sans-serif" textLength="45.67" lengthAdjust="spacingAndGlyphs" stroke="#000" stroke-width="0.30" >thickness</text>
<text x="206.44" y="92.60" font-size="10.60" font-family="Liberation Sans, sans-serif" textLength="47.98" lengthAdjust="spacingAndGlyphs" stroke="#000" stroke-width="0.30" >tortuosity</text>
<text x="439.43" y="53.80" font-size="10.60" font-family="Liberation Sans, sans-serif" textLength="47.92" lengthAdjust="spacingAndGlyphs" stroke="#000" stroke-width="0.30" >tortuosity</text>
<text x="571.39" y="147.00" font-size="10.80" font-family="Liberation Serif, serif" textLength="38.72" lengthAdjust="spacingAndGlyphs" stroke="#000" stroke-width="0.30" >+150&#8201;%</text>
<text x="197.40" y="316.10" font-size="10.00" font-family="Liberation Sans, sans-serif" textLength="49.64" lengthAdjust="spacingAndGlyphs" stroke="#000" stroke-width="0.35" >tortuosity:</text>
<text x="254.31" y="316.10" font-size="10.00" font-family="Liberation Sans, sans-serif" textLength="14.61" lengthAdjust="spacingAndGlyphs" stroke="#000" stroke-width="0.35" >1.5</text>
<text x="317.43" y="316.10" font-size="10.00" font-family="Liberation Sans, sans-serif" textLength="49.77" lengthAdjust="spacingAndGlyphs" stroke="#000" stroke-width="0.35" >tortuosity:</text>
<text x="374.41" y="316.10" font-size="10.00" font-family="Liberation Sans, sans-serif" textLength="16.06" lengthAdjust="spacingAndGlyphs" stroke="#000" stroke-width="0.35" >2.0</text>
<text x="437.79" y="316.10" font-size="10.00" font-family="Liberation Sans, sans-serif" textLength="49.55" lengthAdjust="spacingAndGlyphs" stroke="#000" stroke-width="0.35" >tortuosity:</text>
<text x="494.87" y="316.10" font-size="10.00" font-family="Liberation Sans, sans-serif" textLength="15.44" lengthAdjust="spacingAndGlyphs" stroke="#000" stroke-width="0.35" >3.0</text>
</svg>
</body></html>
